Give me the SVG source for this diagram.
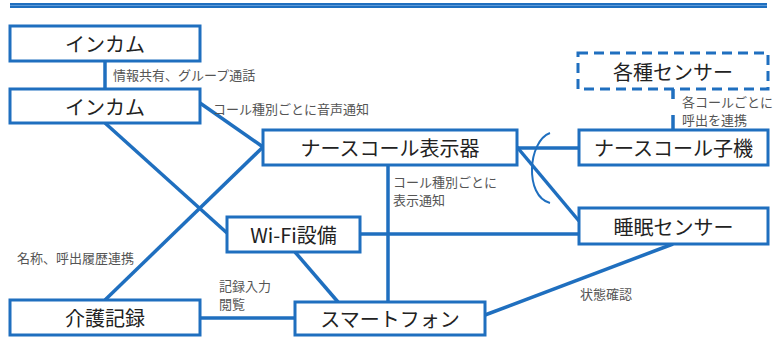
<svg xmlns="http://www.w3.org/2000/svg" width="775" height="340" viewBox="0 0 775 340">
<style>
.box{fill:#fff;stroke:#1f6fbf;stroke-width:3}
.dash{fill:#fff;stroke:#1f6fbf;stroke-width:3;stroke-dasharray:10 6}
.c{stroke:#1f6fbf;stroke-width:3.5;fill:none}
.t{font-family:"Noto Sans CJK JP","Noto Sans",sans-serif;font-size:20px;fill:#222;text-anchor:middle;dominant-baseline:central}
.l{font-family:"Noto Sans CJK JP","Noto Sans",sans-serif;font-size:13px;fill:#555;dominant-baseline:central}
</style>
<rect width="775" height="340" fill="#fff"/>
<line x1="10" y1="5.5" x2="767" y2="5.5" stroke="#1f6fbf" stroke-width="5"/>
<line x1="10" y1="5.5" x2="767" y2="5.5" stroke="#5d9ad8" stroke-width="1"/>
<g id="connectors">
<line class="c" x1="105" y1="61" x2="105" y2="89"/>
<line class="c" x1="200" y1="103" x2="263" y2="147"/>
<line class="c" x1="105" y1="123" x2="227" y2="233"/>
<line class="c" x1="105" y1="300" x2="263" y2="147"/>
<line class="c" x1="517" y1="148" x2="579" y2="148"/>
<line class="c" x1="517" y1="147" x2="579" y2="221"/>
<path d="M550,133 C528,141 524,196 550,203" stroke="#1f6fbf" stroke-width="2" fill="none"/>
<line class="c" x1="388" y1="165" x2="388" y2="302"/>
<line class="c" x1="360" y1="234" x2="579" y2="234"/>
<line class="c" x1="295" y1="252" x2="338" y2="302"/>
<line class="c" x1="200" y1="318" x2="295" y2="318"/>
<line class="c" x1="485" y1="315" x2="673" y2="244"/>
<line class="c" x1="673" y1="89" x2="673" y2="130" stroke-dasharray="10 16 20"/>
</g>
<g id="incom1"><rect class="box" x="10" y="26" width="190" height="35"/><text class="t" x="105" y="43.5">インカム</text></g>
<g id="incom2"><rect class="box" x="10" y="89" width="190" height="34"/><text class="t" x="105" y="106">インカム</text></g>
<g id="nursecall-display"><rect class="box" x="263" y="130" width="254" height="35"/><text class="t" x="390" y="147.5">ナースコール表示器</text></g>
<g id="wifi"><rect class="box" x="227" y="217" width="133" height="35"/><text class="t" x="293.5" y="234.5">Wi-Fi設備</text></g>
<g id="kaigo"><rect class="box" x="10" y="300" width="190" height="35"/><text class="t" x="105" y="317.5">介護記録</text></g>
<g id="smartphone"><rect class="box" x="295" y="302" width="190" height="33"/><text class="t" x="390" y="318.5">スマートフォン</text></g>
<g id="sensors"><rect class="dash" x="578" y="53" width="190" height="36"/><text class="t" x="673" y="71">各種センサー</text></g>
<g id="nursecall-handset"><rect class="box" x="579" y="130" width="189" height="35"/><text class="t" x="673.5" y="147.5">ナースコール子機</text></g>
<g id="sleep-sensor"><rect class="box" x="579" y="208" width="189" height="36"/><text class="t" x="673.5" y="226">睡眠センサー</text></g>
<g id="labels">
<text class="l" x="113" y="74">情報共有、グループ通話</text>
<text class="l" x="213" y="108">コール種別ごとに音声通知</text>
<text class="l" x="393" y="181.5">コール種別ごとに</text>
<text class="l" x="393" y="199.5">表示通知</text>
<text class="l" x="17" y="257">名称、呼出履歴連携</text>
<text class="l" x="219" y="285.5">記録入力</text>
<text class="l" x="219" y="303.5">閲覧</text>
<text class="l" x="580" y="293">状態確認</text>
<text class="l" x="682" y="101.5">各コールごとに</text>
<text class="l" x="682" y="119.5">呼出を連携</text>
</g>
</svg>
